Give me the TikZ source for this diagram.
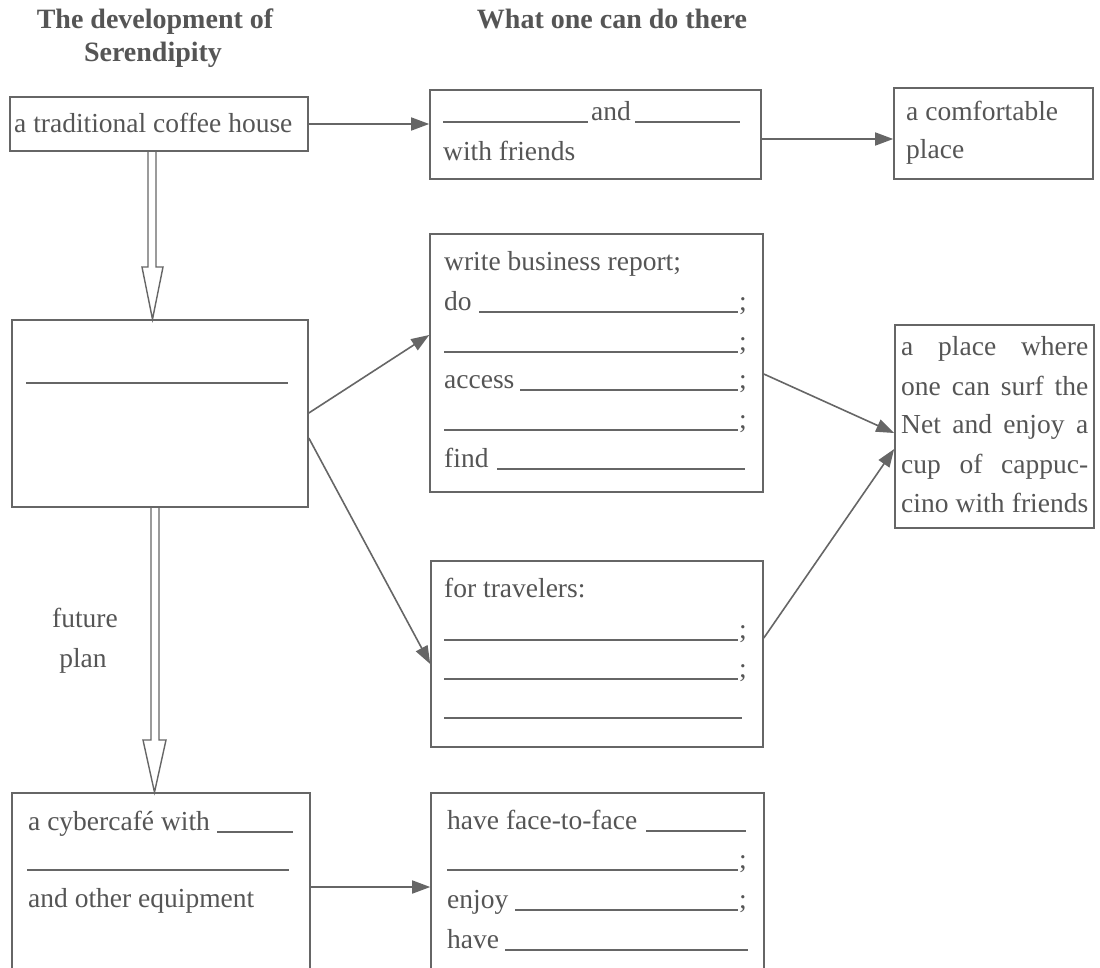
\documentclass[tikz,border=0pt]{standalone}
\usepackage{fontspec}
\setmainfont{Liberation Serif}
\usetikzlibrary{arrows.meta}
\definecolor{ink}{HTML}{555555}
\definecolor{ln}{HTML}{666666}
\tikzset{
  box/.style={draw=ln, line width=1.6pt, rectangle, inner sep=0pt},
  txt/.style={text=ink, anchor=base west, inner sep=0pt, font=\fontsize{27.5}{40}\selectfont},
  ctxt/.style={txt, anchor=base},
  hdr/.style={text=ink, anchor=base, inner sep=0pt, font=\fontsize{28}{40}\selectfont\bfseries},
  blank/.style={draw=ln, line width=1.3pt},
  conn/.style={draw=ln, line width=1.6pt, -{Triangle[length=18pt,width=13pt]}},
  dbl/.style={draw=ln, line width=1.4pt, line join=miter}
}
\begin{document}
\begin{tikzpicture}[x=1pt,y=-1pt]
\clip (0,0) rectangle (1100,967);
\fill[white] (0,0) rectangle (1100,967);
% headers
\node[hdr] (h1) at (155,28) {The development of};
\node[hdr] (h2) at (153,61) {Serendipity};
\node[hdr] (h3) at (612,28) {What one can do there};
% boxes
\node[box, minimum width=298pt, minimum height=54pt] (A) at (159,124) {};
\node[box, minimum width=331pt, minimum height=89pt] (B) at (595.5,134.5) {};
\node[box, minimum width=199pt, minimum height=91pt] (C) at (993.5,133.5) {};
\node[box, minimum width=296pt, minimum height=187pt] (D) at (160,413.5) {};
\node[box, minimum width=333pt, minimum height=258pt] (E) at (596.5,363) {};
\node[box, minimum width=332pt, minimum height=186pt] (F) at (597,654) {};
\node[box, minimum width=199pt, minimum height=203pt] (H) at (994.5,426.5) {};
\node[box, minimum width=298pt, minimum height=200pt] (G) at (161,893) {};
\node[box, minimum width=333pt, minimum height=200pt] (I) at (597.5,893) {};
% box A
\node[txt] (ta) at (14,132) {a traditional coffee house};
% box B
\draw[blank] (443,122) -- (588,122);
\node[ctxt] (tb1) at (611,120) {and};
\draw[blank] (635,122) -- (740,122);
\node[txt] (tb2) at (443,160) {with friends};
% box C
\node[txt] (tc1) at (906,120) {a comfortable};
\node[txt] (tc2) at (906,158) {place};
% box D
\draw[blank] (26,383) -- (288,383);
% box E
\node[txt] (te1) at (444,270) {write business report;};
\node[txt] (te2) at (444,310) {do};
\draw[blank] (479,312) -- (738,312);
\node[txt] (te2s) at (739,310) {;};
\draw[blank] (444,352) -- (738,352);
\node[txt] (te3s) at (739,350) {;};
\node[txt] (te4) at (444,388) {access};
\draw[blank] (520,390) -- (738,390);
\node[txt] (te4s) at (739,388) {;};
\draw[blank] (444,430) -- (738,430);
\node[txt] (te5s) at (739,428) {;};
\node[txt] (te6) at (444,467) {find};
\draw[blank] (497,469) -- (745,469);
% box F
\node[txt] (tf1) at (444,597) {for travelers:};
\draw[blank] (444,640) -- (738,640);
\node[txt] (tf2s) at (739,638) {;};
\draw[blank] (444,679) -- (738,679);
\node[txt] (tf3s) at (739,677) {;};
\draw[blank] (444,718) -- (742,718);
% box H
\node[txt] (th1) at (901,355) {\makebox[187pt][s]{a place where}};
\node[txt] (th2) at (901,395) {\makebox[187pt][s]{one can surf the}};
\node[txt] (th3) at (901,433) {\makebox[187pt][s]{Net and enjoy a}};
\node[txt] (th4) at (901,473) {\makebox[187pt][s]{cup of cappuc-}};
\node[txt] (th5) at (901,512) {\makebox[187pt][s]{cino with friends}};
% box G
\node[txt] (tg1) at (28,830) {a cybercaf\'e with};
\draw[blank] (217,832) -- (293,832);
\draw[blank] (27,870) -- (289,870);
\node[txt] (tg2) at (28,907) {and other equipment};
% box I
\node[txt] (ti1) at (447,829) {have face-to-face};
\draw[blank] (646,831) -- (746,831);
\draw[blank] (447,870) -- (738,870);
\node[txt] (ti2s) at (739,868) {;};
\node[txt] (ti3) at (447,908) {enjoy};
\draw[blank] (515,910) -- (738,910);
\node[txt] (ti3s) at (739,908) {;};
\node[txt] (ti4) at (447,948) {have};
\draw[blank] (505,950) -- (748,950);
% future plan
\node[ctxt] (fp1) at (85,627) {future};
\node[ctxt] (fp2) at (83,667) {plan};
% connectors
\draw[conn] (A.east) -- (A.east -| B.west);
\draw[conn] (B.east |- 0,139) -- (C.west |- 0,139);
\draw[conn] (D.east |- 0,413) -- (E.west |- 0,335);
\draw[conn] (D.east |- 0,438) -- (F.west |- 0,664);
\draw[conn] (E.east |- 0,374) -- (H.west |- 0,433);
\draw[conn] (F.east |- 0,638) -- (H.west |- 0,449);
\draw[conn] (G.east |- 0,887) -- (I.west |- 0,887);
% hollow double arrows
\draw[dbl] (148,0 |- A.south) -- (148,267) -- (142,267) -- (152.5,0 |- D.north) -- (163,267) -- (156,267) -- (156,0 |- A.south);
\draw[dbl] (151,0 |- D.south) -- (151,740) -- (143,740) -- (154.5,0 |- G.north) -- (166,740) -- (159,740) -- (159,0 |- D.south);
\end{tikzpicture}
\end{document}
